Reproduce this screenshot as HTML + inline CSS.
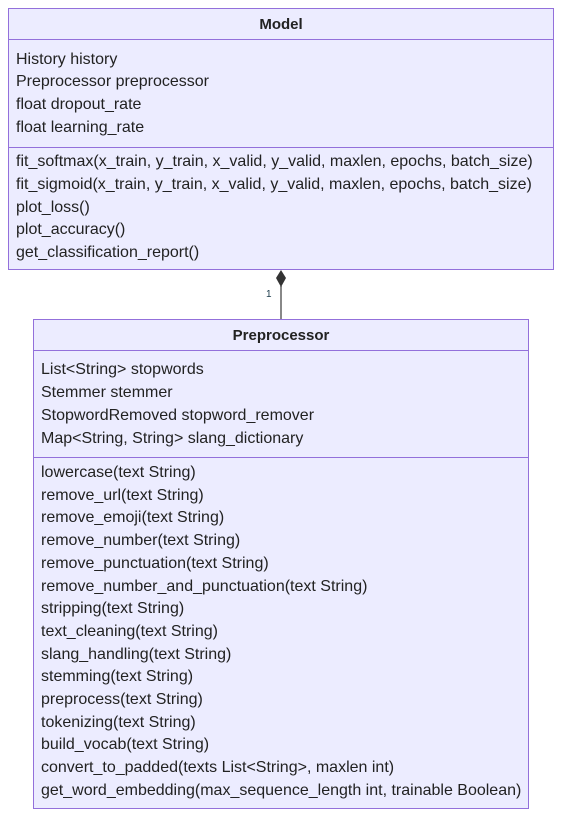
<!DOCTYPE html>
<html><head><style>
body{margin:0;width:570px;height:826px;background:#fff;position:relative;font-family:"Liberation Sans",sans-serif;color:#222;}
.box{position:absolute;background:#ECECFF;border:1px solid #9370DB;box-sizing:border-box;}
.hr{position:absolute;left:0;right:0;height:0;border-top:1px solid #9370DB;}
.t{position:absolute;font-size:16px;white-space:nowrap;line-height:18px;}
.h{font-weight:bold;left:0;right:0;text-align:center;font-size:15px;}
</style></head><body>
<div class="box" style="left:8px;top:8px;width:546px;height:262px;">
<div class="hr" style="top:30px"></div>
<div class="hr" style="top:138px"></div>
<div class="t h" style="top:7px">Model</div>
<div class="t" style="left:7px;top:42px">History history</div>
<div class="t" style="left:7px;top:64px">Preprocessor preprocessor</div>
<div class="t" style="left:7px;top:87px">float dropout_rate</div>
<div class="t" style="left:7px;top:110px">float learning_rate</div>
<div class="t" style="left:7px;top:144px">fit_softmax(x_train, y_train, x_valid, y_valid, maxlen, epochs, batch_size)</div>
<div class="t" style="left:7px;top:167px">fit_sigmoid(x_train, y_train, x_valid, y_valid, maxlen, epochs, batch_size)</div>
<div class="t" style="left:7px;top:190px">plot_loss()</div>
<div class="t" style="left:7px;top:212px">plot_accuracy()</div>
<div class="t" style="left:7px;top:235px">get_classification_report()</div>
</div>
<svg style="position:absolute;left:0;top:0" width="570" height="826">
<line x1="281" y1="286" x2="281" y2="319" stroke="#888" stroke-width="2"/>
<polygon points="281,270 286,278 281,287 276,278" fill="#333"/>
<text x="266" y="297" font-family="Liberation Sans" font-size="10" fill="#1a3a4a">1</text>
</svg>
<div class="box" style="left:33px;top:319px;width:496px;height:490px;">
<div class="hr" style="top:30px"></div>
<div class="hr" style="top:137px"></div>
<div class="t h" style="top:7px">Preprocessor</div>
<div class="t" style="left:7px;top:41px">List&lt;String&gt; stopwords</div>
<div class="t" style="left:7px;top:64px">Stemmer stemmer</div>
<div class="t" style="left:7px;top:87px">StopwordRemoved stopword_remover</div>
<div class="t" style="left:7px;top:110px">Map&lt;String, String&gt; slang_dictionary</div>
<div class="t" style="left:7px;top:144px">lowercase(text String)</div>
<div class="t" style="left:7px;top:167px">remove_url(text String)</div>
<div class="t" style="left:7px;top:189px">remove_emoji(text String)</div>
<div class="t" style="left:7px;top:212px">remove_number(text String)</div>
<div class="t" style="left:7px;top:235px">remove_punctuation(text String)</div>
<div class="t" style="left:7px;top:258px">remove_number_and_punctuation(text String)</div>
<div class="t" style="left:7px;top:280px">stripping(text String)</div>
<div class="t" style="left:7px;top:303px">text_cleaning(text String)</div>
<div class="t" style="left:7px;top:326px">slang_handling(text String)</div>
<div class="t" style="left:7px;top:348px">stemming(text String)</div>
<div class="t" style="left:7px;top:371px">preprocess(text String)</div>
<div class="t" style="left:7px;top:394px">tokenizing(text String)</div>
<div class="t" style="left:7px;top:416px">build_vocab(text String)</div>
<div class="t" style="left:7px;top:439px">convert_to_padded(texts List&lt;String&gt;, maxlen int)</div>
<div class="t" style="left:7px;top:462px">get_word_embedding(max_sequence_length int, trainable Boolean)</div>
</div>
</body></html>
